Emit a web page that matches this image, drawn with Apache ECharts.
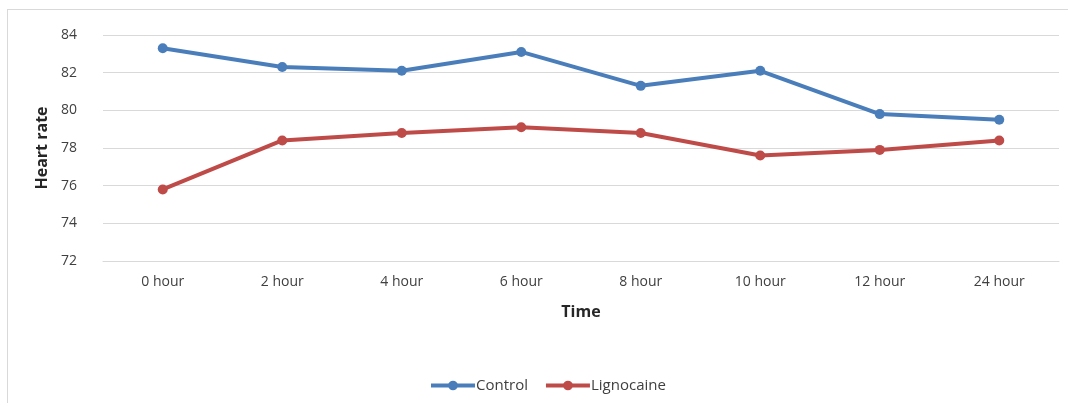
<!DOCTYPE html>
<html>
<head>
<meta charset="utf-8">
<script src="https://cdn.jsdelivr.net/npm/echarts@6/dist/echarts.min.js"></script>
<style>
html,body{margin:0;padding:0;background:#fff;}
#frame{position:absolute;left:7px;top:9px;width:1070px;height:400px;border:1px solid #d9d9d9;box-sizing:border-box;}
#chart{position:absolute;left:0;top:0;width:1068px;height:403px;}
</style>
</head>
<body>
<div id="frame"></div>
<div id="chart"></div>
<script>
const categories = ['0 hour','2 hour','4 hour','6 hour','8 hour','10 hour','12 hour','24 hour'];
const controlValues = [83.3, 82.3, 82.1, 83.1, 81.3, 82.1, 79.8, 79.5];
const lignocaineValues = [75.8, 78.4, 78.8, 79.1, 78.8, 77.6, 77.9, 78.4];
const seriesNames = ['Control','Lignocaine'];

const FONT = 'Open Sans';
const chart = echarts.init(document.getElementById('chart'), null, {renderer:'canvas'});
chart.setOption({
  animation:false,
  textStyle:{fontFamily:FONT},
  grid:{left:103, right:9, top:35, bottom:142},
  legend:{
    data:seriesNames,
    left:424, top:373,
    itemWidth:44, itemHeight:12, itemGap:16,
    lineStyle:{width:4},
    textStyle:{fontFamily:FONT, fontSize:15, color:'#404040', padding:[0,0,0,-4]}
  },
  xAxis:{
    type:'category', data:categories, boundaryGap:true,
    name:'Time', nameLocation:'middle', nameGap:43,
    nameTextStyle:{fontFamily:FONT, fontWeight:'bold', fontSize:16, color:'#262626'},
    axisLine:{show:true, lineStyle:{color:'#d9d9d9'}},
    axisTick:{show:false},
    axisLabel:{fontFamily:FONT, fontSize:14, color:'#404040', margin:14}
  },
  yAxis:{
    type:'value', min:72, max:84, interval:2,
    name:'Heart rate', nameLocation:'middle', nameGap:50, nameRotate:90,
    nameTextStyle:{fontFamily:FONT, fontWeight:'bold', fontSize:16, color:'#262626'},
    axisLine:{show:false}, axisTick:{show:false},
    axisLabel:{fontFamily:FONT, fontSize:14, color:'#404040', margin:26},
    splitLine:{lineStyle:{color:'#d9d9d9', width:1}}
  },
  series:[
    {name:seriesNames[0], type:'line', data:controlValues, symbol:'circle', symbolSize:10,
     lineStyle:{color:'#4a7ebb', width:4}, itemStyle:{color:'#4a7ebb'}},
    {name:seriesNames[1], type:'line', data:lignocaineValues, symbol:'circle', symbolSize:10,
     lineStyle:{color:'#be4b48', width:4}, itemStyle:{color:'#be4b48'}}
  ]
});
</script>
</body>
</html>
